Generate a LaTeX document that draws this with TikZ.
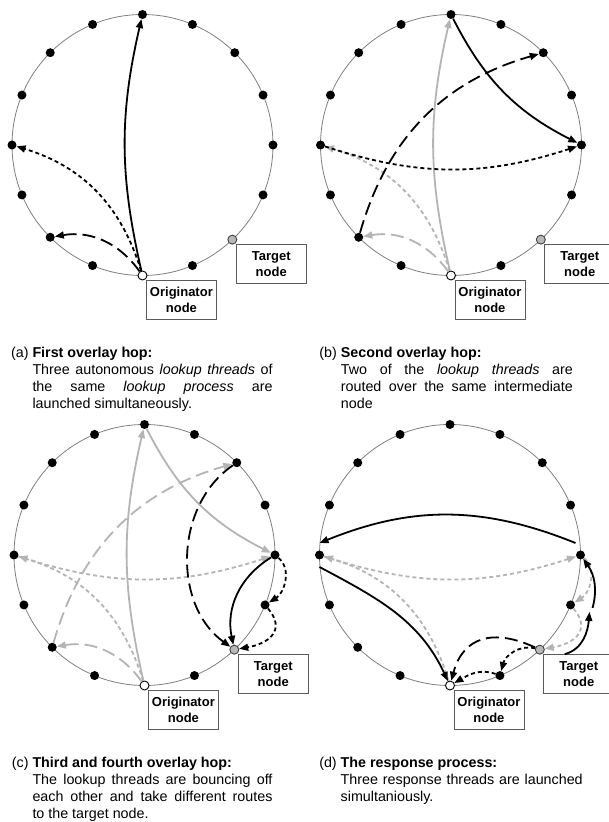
\documentclass[tikz,border=0pt]{standalone}
\usepackage{fontspec}
\setmainfont{Liberation Sans}[WordSpace={1,1.2,0}]
\usetikzlibrary{arrows.meta,calc}
\definecolor{ringgray}{HTML}{808080}
\definecolor{thrgray}{HTML}{B4B4B4}
\definecolor{targgray}{HTML}{B8B8B8}
\definecolor{boxgray}{HTML}{5A5A5A}
\newcommand\capfont{\fontsize{14.3}{17}\selectfont}
\newcommand\capset{\hyphenpenalty=10000 \exhyphenpenalty=10000 \tolerance=10000 \hbadness=10000\relax}
\tikzset{
  ring/.style={draw=ringgray, line width=0.8pt},
  dot/.style={circle, fill=black, inner sep=0pt, minimum size=9pt},
  orig/.style={circle, draw=black, fill=white, line width=0.9pt, inner sep=0pt, minimum size=9pt},
  targ/.style={circle, draw=black!75, fill=targgray, line width=0.9pt, inner sep=0pt, minimum size=9pt},
  lbl/.style={draw=boxgray, fill=white, line width=0.8pt, minimum width=70pt, minimum height=39pt,
    inner sep=0pt, align=center, font=\bfseries\fontsize{13}{15.5}\selectfont},
  thr/.style={line width=1.8pt, -{Triangle[length=9pt,width=7pt]}},
  ldash/.style={dash pattern=on 13pt off 6pt},
  sdash/.style={dash pattern=on 4pt off 3pt},
  blk/.style={draw=black},
  gry/.style={draw=thrgray},
  captxt/.style={inner sep=0pt, align=justify, anchor=base west, font=\capfont}
}
\newcommand\mkpanel[3]{%
  \draw[ring] (#2,#3) circle [radius=130.5];
  \foreach \k in {0,1,2,3,4,5,7,9,10,11,12,13,14,15}{
    \node[dot] (#1\k) at ($(#2,#3)+({90-22.5*\k}:130.5)$) {};
  }
  \node[targ] (#16) at ($(#2,#3)+(-46.5:130.5)$) {};
  \node[orig] (#18) at ($(#2,#3)+(-90:130.5)$) {};
  \node[lbl, anchor=north west] (#1t) at ([yshift=-1pt]#16.south east) {Target\\node};
  \node[lbl, anchor=north west] (#1o) at ([yshift=-1pt]#18.south east) {Originator\\node};
}
\begin{document}
\begin{tikzpicture}[x=1pt,y=1pt]
\useasboundingbox (0,0) rectangle (609,822);
\fill[white] (0,0) rectangle (609,822);

% ---------- panel (a)
\mkpanel{a}{142.5}{677}
\draw[thr,blk] (a8) to[bend left=13] (a0);
\draw[thr,blk,sdash] (a8) to[bend right=28] (a12);
\draw[thr,blk,ldash] (a8) to[bend right=32] (a10);

% ---------- panel (b)
\mkpanel{b}{451}{677}
\draw[thr,gry] (b8) to[bend left=13] (b0);
\draw[thr,gry,sdash] (b8) to[bend right=28] (b12);
\draw[thr,gry,ldash] (b8) to[bend right=32] (b10);
\draw[thr,blk] (b0) to[bend right=18] (b4);
\draw[thr,blk,ldash] (b10) to[bend left=29] (b2);
\draw[thr,blk,sdash] (b12) to[bend right=18] (b4);

% ---------- panel (c)
\mkpanel{c}{144.5}{267}
\draw[thr,gry] (c8) to[bend left=13] (c0);
\draw[thr,gry,sdash] (c8) to[bend right=28] (c12);
\draw[thr,gry,ldash] (c8) to[bend right=32] (c10);
\draw[thr,gry] (c0) to[bend right=18] (c4);
\draw[thr,gry,ldash] (c10) to[bend left=29] (c2);
\draw[thr,gry,sdash] (c12) to[bend right=18] (c4);
\draw[thr,blk,ldash] (c2) to[bend right=55] (c6);
\draw[thr,blk] (c4) to[bend right=35] (c6);
\draw[thr,blk,sdash] (c4) to[out=-40,in=32] (c5);
\draw[thr,blk,sdash] (c5) to[out=-50,in=10,looseness=1.5] (c6);

% ---------- panel (d)
\mkpanel{d}{450}{267}
\draw[thr,gry,sdash] (d8) to[bend right=28] (d12);
\draw[thr,gry,sdash] (d12) to[bend right=18] (d4);
\draw[thr,gry,sdash] (d4) to[out=-40,in=32] (d5);
\draw[thr,gry,sdash] (d5) to[out=-50,in=10,looseness=1.5] (d6);
\coordinate (dS1) at ([xshift=-14pt]dt.north);
\coordinate (dE1) at ([shift={(19pt,-7pt)}]d5.center);
\coordinate (dS2) at ([shift={(22pt,-3pt)}]d5.center);
\coordinate (dS3) at ([shift={(-5pt,12pt)}]d4.center);
\coordinate (dE3) at ([yshift=12pt]d12.center);
\coordinate (dS4) at ([yshift=-12pt]d12.center);
\draw[thr,blk] (dS1) to[out=15,in=-95] (dE1);
\draw[thr,blk] (dS2) to[out=75,in=-55] (d4);
\draw[thr,blk] (dS3) to[bend right=22] (dE3);
\draw[thr,blk] (dS4) to[out=-28,in=115] (d8);
\draw[thr,blk,ldash] (d6) to[out=155,in=75,looseness=1.3] (d8);
\draw[thr,blk,sdash] (d6) to[out=165,in=75] (d7);
\draw[thr,blk,sdash] (d7) to[out=160,in=30] (d8);

% ---------- captions
\node[captxt, text width=240pt] (capa) at (32.3,464.5)
  {\capset\llap{(a) }\textbf{First overlay hop:}\\Three autonomous \textit{lookup threads} of\linebreak the same \textit{lookup process} are\linebreak launched simultaneously.};
\node[captxt, text width=232pt] (capb) at (340.7,464.5)
  {\capset\llap{(b) }\textbf{Second overlay hop:}\\Two of the \textit{lookup threads} are\linebreak routed over the same intermediate\linebreak node};
\node[captxt, text width=240pt] (capc) at (32.3,54.5)
  {\capset\llap{(c) }\textbf{Third and fourth overlay hop:}\\The lookup threads are bouncing off\linebreak each other and take different routes\linebreak to the target node.};
\node[captxt, text width=242pt] (capd) at (340.5,54.5)
  {\capset\llap{(d) }\textbf{The response process:}\\Three response threads are launched\linebreak simultaniously.};
\end{tikzpicture}
\end{document}
